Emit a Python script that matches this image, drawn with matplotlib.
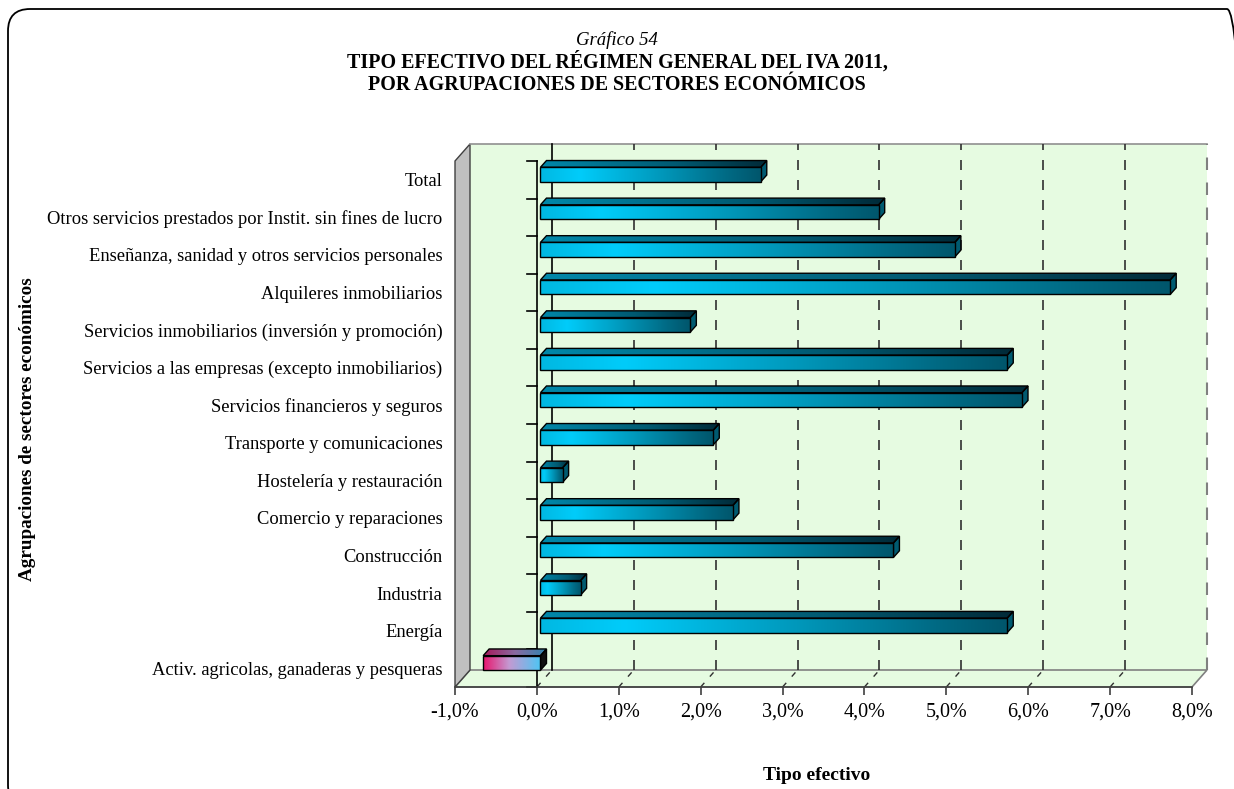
import numpy as np
import matplotlib
matplotlib.use('Agg')
from matplotlib import pyplot as plt
from matplotlib.patches import Polygon, Rectangle, FancyBboxPatch
from matplotlib.colors import LinearSegmentedColormap
from matplotlib.transforms import IdentityTransform

plt.rcParams['font.family'] = ['Liberation Serif', 'DejaVu Serif']

# datos (de abajo hacia arriba)
sectores = ['Activ. agricolas, ganaderas y pesqueras', 'Energía', 'Industria', 'Construcción',
            'Comercio y reparaciones', 'Hostelería y restauración', 'Transporte y comunicaciones',
            'Servicios financieros y seguros', 'Servicios a las empresas (excepto inmobiliarios)',
            'Servicios inmobiliarios (inversión y promoción)', 'Alquileres inmobiliarios',
            'Enseñanza, sanidad y otros servicios personales',
            'Otros servicios prestados por Instit. sin fines de lucro', 'Total']
tipo_efectivo = [-0.70, 5.70, 0.49, 4.31, 2.35, 0.27, 2.11, 5.88, 5.70, 1.83, 7.69, 5.06, 4.13, 2.69]
ticks_x = list(range(-1, 9))

W, H = 1234, 789
X0, X1 = -1, 8
n = len(sectores)

# colores
cmap_front = LinearSegmentedColormap.from_list('f', [(0, '#00b8e2'), (0.18, '#00ccfa'), (0.55, '#0098bb'),
                                                     (0.85, '#006a84'), (1, '#00566c')])
cmap_top = LinearSegmentedColormap.from_list('t', [(0, '#0088aa'), (0.6, '#005a72'), (1, '#002a38')])
cmap_neg_front = LinearSegmentedColormap.from_list('nf', [(0, '#e8146c'), (0.45, '#c49ad2'), (1, '#4cc6f4')])
cmap_neg_top = LinearSegmentedColormap.from_list('nt', [(0, '#a8185a'), (0.5, '#8a6aa0'), (1, '#2e86b0')])
verde = '#e6fbe1'


def grad_fill(ax, pts, cmap, z, ec='black'):
    poly = Polygon(pts, closed=True, fc='none', ec=ec, lw=1.0, zorder=z + 0.1, clip_on=False)
    ax.add_patch(poly)
    xs = [p[0] for p in pts]
    ys = [p[1] for p in pts]
    im = ax.imshow(np.linspace(0, 1, 256).reshape(1, -1), cmap=cmap, aspect='auto', origin='lower',
                   extent=[min(xs), max(xs), min(ys), max(ys)], zorder=z, interpolation='bilinear')
    im.set_clip_path(poly)
    return poly


fig = plt.figure(figsize=(W / 100, H / 100), dpi=100)
ax = fig.add_axes([455 / W, 1 - 687 / H, 737 / W, 526 / H])

px_x = 737 / (X1 - X0)
px_y = 526 / n
DX, DY = 15 / px_x, 17 / px_y          # profundidad de la caja
BDX, BDY = 6 / px_x, 6.7 / px_y        # profundidad de la barra
FX, FY = 3.6 / px_x, 5.3 / px_y        # desplazamiento de la cara frontal
BH = 14.5 / px_y

yb, yt = -0.5, n - 0.5

# paredes
ax.add_patch(Rectangle((X0 + DX, yb + DY), X1 - X0, yt - yb, fc=verde, ec='none', zorder=0, clip_on=False))
ax.add_patch(Polygon([(X0, yb), (X1, yb), (X1 + DX, yb + DY), (X0 + DX, yb + DY)],
                     fc=verde, ec='#808080', lw=1.2, zorder=0.5, clip_on=False))
ax.add_patch(Polygon([(X0, yb), (X0 + DX, yb + DY), (X0 + DX, yt + DY), (X0, yt)],
                     fc='#c0c0c0', ec='#404040', lw=1.0, zorder=1, clip_on=False))
ax.plot([X0 + DX, X1 + DX], [yt + DY, yt + DY], color='#909090', lw=1.2, zorder=1, clip_on=False)
ax.plot([X1 + DX, X1 + DX], [yb + DY, yt + DY], color='#808080', lw=1.5, dashes=(6, 6), zorder=1, clip_on=False)

# rejilla
for t in ticks_x[1:-1]:
    if t == 0:
        ax.plot([t + DX, t + DX], [yb + DY, yt + DY], color='black', lw=1.2, zorder=1.5, clip_on=False)
    else:
        ax.plot([t + DX, t + DX], [yb + DY, yt + DY], color='#303030', lw=1.2, dashes=(6, 6),
                zorder=1.5, clip_on=False)
    ax.plot([t, t + DX], [yb, yb + DY], color='#303030', lw=1.0, dashes=(4, 6), zorder=1.5, clip_on=False)

# eje de categorias
ax.plot([0, 0], [yb, yt], color='black', lw=1.2, zorder=2, clip_on=False)
for k in range(n + 1):
    ax.plot([-10 / px_x, 0], [k - 0.5, k - 0.5], color='black', lw=1.2, zorder=2, clip_on=False)

# barras
for i, v in enumerate(tipo_efectivo):
    y0 = i + FY - BH / 2
    y1 = y0 + BH
    a, b = sorted([FX, v + FX])
    cf, ct = (cmap_front, cmap_top) if v >= 0 else (cmap_neg_front, cmap_neg_top)
    z = 3 + (n - i) * 0.01
    grad_fill(ax, [(a, y1), (b, y1), (b + BDX, y1 + BDY), (a + BDX, y1 + BDY)], ct, z)
    side = '#005a70' if v >= 0 else '#101010'
    ax.add_patch(Polygon([(b, y0), (b + BDX, y0 + BDY), (b + BDX, y1 + BDY), (b, y1)],
                         fc=side, ec='black', lw=1.0, zorder=z, clip_on=False))
    grad_fill(ax, [(a, y0), (b, y0), (b, y1), (a, y1)], cf, z + 0.2)

ax.set_xlim(X0, X1)
ax.set_ylim(yb, yt)
ax.set_aspect('auto')
ax.patch.set_visible(False)
for s in ['top', 'right', 'left']:
    ax.spines[s].set_visible(False)
ax.spines['bottom'].set_color('#404040')
ax.spines['bottom'].set_linewidth(1.2)
ax.spines['bottom'].set_zorder(2)
ax.set_xticks(ticks_x, labels=[f'{t:.1f}%'.replace('.', ',') for t in ticks_x], fontsize=14.5)
ax.tick_params(axis='x', length=6, width=1.2, color='#404040', pad=5)
ax.set_yticks(range(n), labels=sectores, fontsize=13.3)
ax.tick_params(axis='y', length=0, pad=9)

# titulos
fig.text(0.5, 1 - 40 / H, 'Gráfico 54', style='italic', ha='center', va='center', fontsize=13.5)
fig.text(0.5, 1 - 62 / H, 'TIPO EFECTIVO DEL RÉGIMEN GENERAL DEL IVA 2011,', weight='bold',
         ha='center', va='center', fontsize=14.4)
fig.text(0.5, 1 - 85 / H, 'POR AGRUPACIONES DE SECTORES ECONÓMICOS', weight='bold',
         ha='center', va='center', fontsize=14.4)
fig.text(817 / W, 1 - 776 / H, 'Tipo efectivo', weight='bold', ha='center', va='center', fontsize=14)
fig.text(28 / W, 1 - 429 / H, 'Agrupaciones de sectores económicos', weight='bold', rotation=90,
         ha='center', va='center', fontsize=13.8)

# marco redondeado
fig.add_artist(FancyBboxPatch((8, -18), 1241, H - 9 + 18, boxstyle='round,pad=0,rounding_size=22',
                              fc='none', ec='black', lw=1.3, transform=IdentityTransform()))

fig.savefig('out.png', dpi=100)
